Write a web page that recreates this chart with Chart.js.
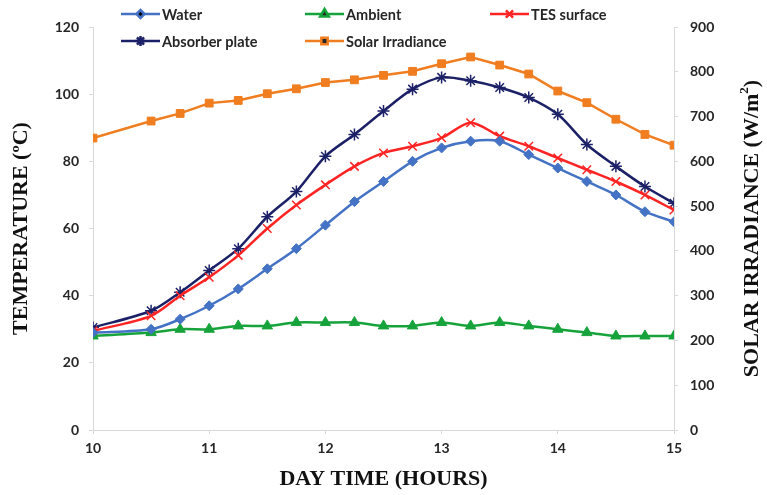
<!DOCTYPE html>
<html>
<head>
<meta charset="utf-8">
<script src="https://cdn.jsdelivr.net/npm/chart.js@4/dist/chart.umd.min.js"></script>
<style>
  html, body { margin: 0; padding: 0; background: #fff; }
  #wrap { width: 767px; height: 495px; position: relative; }
</style>
</head>
<body>
<div id="wrap"><canvas id="chart"></canvas></div>
<script>
'use strict';

// data
const hours      = [10, 10.5, 10.75, 11, 11.25, 11.5, 11.75, 12, 12.25, 12.5, 12.75, 13, 13.25, 13.5, 13.75, 14, 14.25, 14.5, 14.75, 15];
const water      = [29, 30, 33, 37, 42, 48, 54, 61, 68, 74, 80, 84, 86, 86, 82, 78, 74, 70, 65, 62];
const ambient    = [28, 29, 30, 30, 31, 31, 32, 32, 32, 31, 31, 32, 31, 32, 31, 30, 29, 28, 28, 28];
const tesSurface = [29.5, 34, 40, 45.5, 52, 60, 67, 73, 78.5, 82.5, 84.5, 87, 91.5, 87.5, 84.5, 81, 77.5, 74, 70, 65.5];
const absorber   = [30.5, 35.5, 41, 47.5, 54, 63.5, 71, 81.5, 88, 95, 101.5, 105, 104, 102, 99, 94, 85, 78.5, 72.5, 67.5];
const solar      = [652, 690, 707, 730, 736, 751, 762, 776, 782, 792, 801, 818, 833, 815, 795, 757, 731, 694, 660, 636];

const xTicks    = [10, 11, 12, 13, 14, 15];
const tempTicks = [0, 20, 40, 60, 80, 100, 120];
const irrTicks  = [0, 100, 200, 300, 400, 500, 600, 700, 800, 900];

const pts = arr => arr.map((v, i) => ({ x: hours[i], y: v }));

const C = {
  water: '#4472C4', ambient: '#17A33B', tes: '#FF2424', absorber: '#1C2167', solar: '#F07D1F',
  axis: '#D9D9D9', text: '#262626',
};

const series = [
  { label: 'Water',            data: water,      color: C.water,    style: 'rectRot',  r: 5,   yAxisID: 'y',  tension: 0.3 },
  { label: 'Ambient',          data: ambient,    color: C.ambient,  style: 'triangle', r: 6,   yAxisID: 'y',  tension: 0.3 },
  { label: 'TES surface',      data: tesSurface, color: C.tes,      style: 'crossRot', r: 6,   yAxisID: 'y',  tension: 0.3 },
  { label: 'Absorber plate',   data: absorber,   color: C.absorber, style: 'star',     r: 6,   yAxisID: 'y',  tension: 0.3 },
  { label: 'Solar Irradiance', data: solar,      color: C.solar,    style: 'rect',     r: 5.5, yAxisID: 'y1', tension: 0 },
];

// legend in two rows, drawn like Excel: line sample + marker in the middle
const legendSlots = [
  { x: 121, y: 14 }, { x: 305, y: 14 }, { x: 490, y: 14 },
  { x: 121, y: 41 }, { x: 305, y: 41 },
];

const excelLegend = {
  id: 'excelLegend',
  afterDraw(chart) {
    const ctx = chart.ctx;
    ctx.save();
    chart.data.datasets.forEach((ds, i) => {
      const s = legendSlots[i];
      ctx.strokeStyle = ds.borderColor;
      ctx.lineWidth = 2.5;
      ctx.beginPath();
      ctx.moveTo(s.x, s.y);
      ctx.lineTo(s.x + 39, s.y);
      ctx.stroke();
      Chart.helpers.drawPoint(ctx, {
        pointStyle: ds.pointStyle, radius: ds.pointRadius - 1, borderWidth: ds.pointBorderWidth,
      }, s.x + 19.5, s.y);
      ctx.fillStyle = C.text;
      ctx.font = 'bold 14.5px Lato';
      ctx.textBaseline = 'middle';
      ctx.textAlign = 'left';
      ctx.fillText(ds.label, s.x + 41, s.y + 1);
    });
    ctx.restore();
  },
};

// right-hand title reads bottom to top, as in the reference
const rightTitle = {
  id: 'rightTitle',
  afterDraw(chart) {
    const ctx = chart.ctx;
    const area = chart.chartArea;
    ctx.save();
    ctx.translate(752, (area.top + area.bottom) / 2);
    ctx.rotate(-Math.PI / 2);
    ctx.fillStyle = '#111';
    ctx.font = 'bold 22px "Liberation Serif"';
    ctx.textAlign = 'center';
    ctx.textBaseline = 'middle';
    const a = 'SOLAR IRRADIANCE (W/m';
    const sup = '2';
    const b = ')';
    ctx.font = 'bold 22px "Liberation Serif"';
    const wa = ctx.measureText(a).width, wb = ctx.measureText(b).width;
    ctx.font = 'bold 13px "Liberation Serif"';
    const ws = ctx.measureText(sup).width;
    let x0 = -(wa + ws + wb) / 2;
    ctx.textAlign = 'left';
    ctx.font = 'bold 22px "Liberation Serif"';
    ctx.fillText(a, x0, 0);
    ctx.font = 'bold 13px "Liberation Serif"';
    ctx.fillText(sup, x0 + wa, -7);
    ctx.font = 'bold 22px "Liberation Serif"';
    ctx.fillText(b, x0 + wa + ws, 0);
    ctx.restore();
  },
};

const tickFont = { family: 'Lato', size: 14, weight: 'bold' };

new Chart(document.getElementById('chart'), {
  type: 'line',
  data: {
    datasets: series.map(s => ({
      label: s.label,
      data: pts(s.data),
      yAxisID: s.yAxisID,
      borderColor: s.color,
      backgroundColor: s.color,
      borderWidth: 2.5,
      tension: s.tension,
      pointStyle: s.style,
      pointRadius: s.r,
      pointHoverRadius: s.r,
      pointBorderWidth: (s.style === 'crossRot' || s.style === 'star') ? 1.5 : 1,
      pointBorderColor: s.color,
      pointBackgroundColor: s.color,
      fill: false,
    })),
  },
  options: {
    responsive: true,
    maintainAspectRatio: false,
    animation: false,
    layout: { padding: { top: 27, right: 0, bottom: 0, left: 0 } },
    plugins: { legend: { display: false }, tooltip: { enabled: false } },
    scales: {
      x: {
        type: 'linear',
        min: 10, max: 15,
        afterBuildTicks: sc => { sc.ticks = xTicks.map(v => ({ value: v })); },
        afterFit: sc => { sc.height = 65; },
        grid: { drawOnChartArea: false, drawTicks: true, tickLength: 4, color: C.axis },
        border: { display: true, color: C.axis, width: 1 },
        ticks: { font: tickFont, color: C.text, padding: 6, maxRotation: 0 },
        title: {
          display: true, text: 'DAY TIME (HOURS)', color: '#111',
          font: { family: 'Liberation Serif', size: 22, weight: 'bold' },
          padding: { top: 0, bottom: 2 },
        },
      },
      y: {
        position: 'left',
        min: 0, max: 120,
        afterBuildTicks: sc => { sc.ticks = tempTicks.map(v => ({ value: v })); },
        afterFit: sc => { sc.width = 93; },
        grid: { drawOnChartArea: false, drawTicks: true, tickLength: 4, color: C.axis },
        border: { display: true, color: C.axis, width: 1 },
        ticks: { font: tickFont, color: C.text, padding: 10 },
        title: {
          display: true, text: 'TEMPERATURE (ºC)', color: '#111',
          font: { family: 'Liberation Serif', size: 22, weight: 'bold' },
          padding: { top: 8, bottom: 0 },
        },
      },
      y1: {
        position: 'right',
        min: 0, max: 900,
        afterBuildTicks: sc => { sc.ticks = irrTicks.map(v => ({ value: v })); },
        afterFit: sc => { sc.width = 93; },
        grid: { drawOnChartArea: false, drawTicks: true, tickLength: 4, color: C.axis },
        border: { display: true, color: C.axis, width: 1 },
        ticks: { font: tickFont, color: C.text, padding: 12 },
      },
    },
  },
  plugins: [excelLegend, rightTitle],
});
</script>
</body>
</html>
